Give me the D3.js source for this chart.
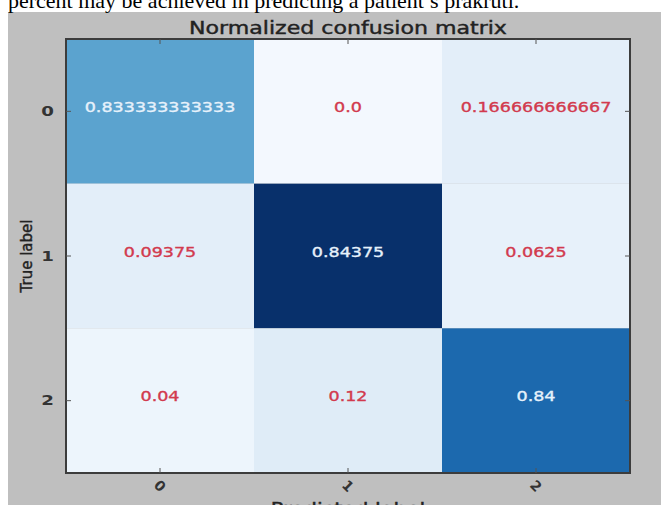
<!DOCTYPE html>
<html>
<head>
<meta charset="utf-8">
<title>Normalized confusion matrix</title>
<style>
body { margin: 0; background: #fff; }
svg { display: block; }
.doc { font-family: "Liberation Serif", "Times New Roman", serif; font-size: 22px; fill: #000; }
.chart text { font-family: "DejaVu Sans", sans-serif; }
.tick-lbl { font-size: 14px; font-weight: bold; fill: #333; }
.cell-lbl { font-size: 13.5px; stroke-width: 0.35px; }
.ttl { stroke: #222; stroke-width: 0.4px; }
</style>
</head>
<body>
<svg></svg>
<script src="https://d3js.org/d3.v7.min.js"></script>
<script>
const classes = ['0', '1', '2'];
// rows = true label, cols = predicted label
const matrix = [
  [0.833333333333, 0.0, 0.166666666667],
  [0.09375, 0.84375, 0.0625],
  [0.04, 0.12, 0.84]
];
// colormap level (Blues) for each cell
const colorLevel = [
  [0.55, 0.02, 0.10],
  [0.10, 1.00, 0.08],
  [0.05, 0.12, 0.78]
];
const title = 'Normalized confusion matrix';
const xTitle = 'Predicted label';
const yTitle = 'True label';
const docLine = 'percent may be achieved in predicting a patient\u2019s prakruti.';

const W = 661, H = 505;
const plot = { left: 66, top: 39, right: 630, bottom: 473 };
const sx = 1.3; // the picture is stretched sideways

// python2 style str() of a float
const pyStr = v => {
  let s = (+v.toPrecision(12)).toString();
  return s.includes('.') ? s : s + '.0';
};

const svg = d3.select('svg').attr('width', W).attr('height', H);

svg.append('rect').attr('x', 8).attr('y', 12).attr('width', W - 8).attr('height', H - 12)
   .attr('fill', '#bfbfbf');

svg.append('text').attr('class', 'doc').attr('x', 8).attr('y', 8).text(docLine);

const g = svg.append('g').attr('class', 'chart');

const x = d3.scaleBand(classes, [plot.left, plot.right]);
const y = d3.scaleBand(classes, [plot.top, plot.bottom]);
const color = d3.scaleSequential(d3.interpolateBlues).domain([0, 1]);

const cells = [];
matrix.forEach((row, i) => row.forEach((v, j) => cells.push({ i, j, v, c: colorLevel[i][j] })));

g.selectAll('rect.cell').data(cells).join('rect')
  .attr('class', 'cell')
  .attr('x', d => x(classes[d.j]))
  .attr('y', d => y(classes[d.i]))
  .attr('width', x.bandwidth())
  .attr('height', y.bandwidth())
  .attr('fill', d => color(d.c));

g.selectAll('text.cell-lbl').data(cells).join('text')
  .attr('class', 'cell-lbl')
  .attr('text-anchor', 'middle')
  .attr('dominant-baseline', 'central')
  .attr('transform', d => `translate(${x(classes[d.j]) + x.bandwidth() / 2},${y(classes[d.i]) + y.bandwidth() / 2 - 4}) scale(${sx},1)`)
  .attr('fill', d => d.c > 0.5 ? '#e6f1fb' : '#d23a4e')
  .attr('stroke', d => d.c > 0.5 ? '#e6f1fb' : '#d23a4e')
  .text(d => pyStr(d.v));

// frame
g.append('rect')
  .attr('x', plot.left).attr('y', plot.top)
  .attr('width', plot.right - plot.left).attr('height', plot.bottom - plot.top)
  .attr('fill', 'none').attr('stroke', '#3c3c3c').attr('stroke-width', 2);

// inward ticks on all sides
const tk = 5;
const axTop = d3.axisBottom(x).tickSize(tk).tickFormat('');
const axBot = d3.axisTop(x).tickSize(tk).tickFormat('');
const axLeft = d3.axisRight(y).tickSize(tk).tickFormat('');
const axRight = d3.axisLeft(y).tickSize(tk).tickFormat('');
[[axTop, `translate(0,${plot.top})`], [axBot, `translate(0,${plot.bottom})`],
 [axLeft, `translate(${plot.left},0)`], [axRight, `translate(${plot.right},0)`]].forEach(([ax, t]) => {
  const a = g.append('g').attr('transform', t).call(ax);
  a.select('.domain').remove();
  a.selectAll('.tick line').attr('stroke', '#555').attr('stroke-width', 1);
});

// tick labels
g.selectAll('text.ylbl').data(classes).join('text')
  .attr('class', 'tick-lbl ylbl')
  .attr('text-anchor', 'end')
  .attr('dominant-baseline', 'central')
  .attr('transform', d => `translate(54,${y(d) + y.bandwidth() / 2}) scale(${sx},1)`)
  .text(d => d);

g.selectAll('text.xlbl').data(classes).join('text')
  .attr('class', 'tick-lbl xlbl')
  .attr('text-anchor', 'middle')
  .attr('dominant-baseline', 'central')
  .attr('transform', d => `translate(${x(d) + x.bandwidth() / 2},${plot.bottom + 13}) rotate(45)`)
  .text(d => d);

// titles
g.append('text')
  .attr('class', 'ttl')
  .attr('text-anchor', 'middle')
  .attr('transform', `translate(${(plot.left + plot.right) / 2},34) scale(${sx},1)`)
  .attr('font-size', 17).attr('fill', '#222')
  .text(title);

g.append('text')
  .attr('class', 'ttl')
  .attr('text-anchor', 'middle')
  .attr('transform', `translate(${(plot.left + plot.right) / 2},514) scale(${sx},1)`)
  .attr('font-size', 16).attr('fill', '#222')
  .text(xTitle);

g.append('text')
  .attr('class', 'ttl')
  .attr('text-anchor', 'middle')
  .attr('transform', `translate(32,${(plot.top + plot.bottom) / 2}) rotate(-90)`)
  .attr('font-size', 15).attr('fill', '#222')
  .text(yTitle);
</script>
</body>
</html>
